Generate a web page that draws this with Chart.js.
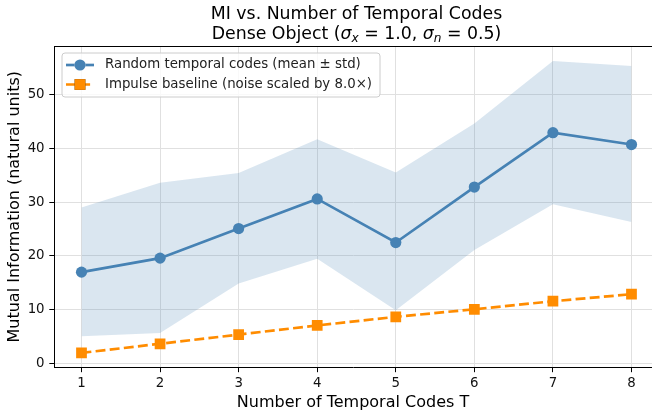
<!DOCTYPE html>
<html>
<head>
<meta charset="utf-8">
<script src="https://cdn.jsdelivr.net/npm/chart.js@4.4.0/dist/chart.umd.min.js"></script>
<style>
  html, body { margin: 0; padding: 0; background: #fff; overflow: hidden; }
  #wrap { width: 652px; height: 415px; }
</style>
</head>
<body>
<div id="wrap"><canvas id="myChart" width="652" height="415"></canvas></div>
<script>
// values
const codes = [1, 2, 3, 4, 5, 6, 7, 8];
const miMean = [17.0, 19.6, 25.1, 30.6, 22.5, 32.8, 42.9, 40.7];
const miUpper = [29.0, 33.6, 35.4, 41.7, 35.5, 44.6, 56.2, 55.3];
const miLower = [5.1, 5.7, 14.9, 19.5, 9.9, 21.1, 29.6, 26.3];
const impulse = [2.0, 3.7, 5.4, 7.1, 8.7, 10.1, 11.6, 12.9];
const yTicks = [0, 10, 20, 30, 40, 50];

const FONT = "'DejaVu Sans', sans-serif";
const steel = '#4682b4';
const orange = '#ff8c00';
const gridGray = '#e0e0e0';

const pts = (arr) => codes.map((c, i) => ({x: c, y: arr[i]}));

// two-line title, second line has sigma with subscripts like mathtext
const mathTitle = {
  id: 'mathTitle',
  afterDraw(chart) {
    const c = chart.ctx;
    const cx = 356.5;
    const size = 17.33;
    const reg = size + 'px ' + FONT;
    const ita = 'italic ' + size + 'px ' + FONT;
    const sub = 'italic ' + (size * 0.7).toFixed(2) + 'px ' + FONT;
    c.save();
    c.fillStyle = '#000';
    c.textBaseline = 'alphabetic';
    c.textAlign = 'left';
    c.font = reg;
    const line1 = 'MI vs. Number of Temporal Codes';
    c.fillText(line1, cx - c.measureText(line1).width / 2, 19);
    const parts = [
      [reg, 'Dense Object (', 0],
      [ita, '\u03c3', 0],
      [sub, 'x', 3.5],
      [reg, ' = 1.0, ', 0],
      [ita, '\u03c3', 0],
      [sub, 'n', 3.5],
      [reg, ' = 0.5)', 0]
    ];
    let total = 0;
    parts.forEach(p => { c.font = p[0]; total += c.measureText(p[1]).width; });
    let x = cx - total / 2;
    parts.forEach(p => {
      c.font = p[0];
      c.fillText(p[1], x, 38.5 + p[2]);
      x += c.measureText(p[1]).width;
    });
    c.restore();
  }
};

// legend box drawn inside the plot (matplotlib style) + top spine
const innerLegend = {
  id: 'innerLegend',
  afterDatasetsDraw(chart) {
    const c = chart.ctx;
    const area = chart.chartArea;
    const items = [chart.data.datasets[0], chart.data.datasets[1]];
    c.save();
    // top spine
    c.fillStyle = '#000';
    c.fillRect(area.left, Math.round(area.top), area.right - area.left, 1);

    c.beginPath();
    c.roundRect(62, 53, 318, 44, 3);
    c.fillStyle = 'rgba(255,255,255,0.8)';
    c.fill();
    c.strokeStyle = '#cccccc';
    c.lineWidth = 1;
    c.stroke();
    items.forEach((ds, i) => {
      const y = 65 + i * 19.5;
      c.beginPath();
      c.setLineDash(ds.borderDash || []);
      c.strokeStyle = ds.borderColor;
      c.lineWidth = ds.borderWidth;
      c.moveTo(66, y);
      c.lineTo(94, y);
      c.stroke();
      c.setLineDash([]);
      Chart.helpers.drawPoint(c, {pointStyle: ds.pointStyle, radius: ds.pointRadius, borderWidth: 0}, 80, y);
      c.fillStyle = ds.pointBackgroundColor;
      c.fill();
      c.fillStyle = '#222';
      c.font = '13.33px ' + FONT;
      c.textBaseline = 'middle';
      c.textAlign = 'left';
      c.fillText(ds.label, 105, y);
    });
    c.restore();
  }
};

new Chart(document.getElementById('myChart'), {
  type: 'line',
  data: {
    datasets: [
      {
        label: 'Random temporal codes (mean \u00b1 std)',
        data: pts(miMean),
        borderColor: steel,
        backgroundColor: steel,
        borderWidth: 2.67,
        pointStyle: 'circle',
        pointRadius: 5.6,
        pointBackgroundColor: steel,
        pointBorderWidth: 0,
        tension: 0,
        fill: false
      },
      {
        label: 'Impulse baseline (noise scaled by 8.0\u00d7)',
        data: pts(impulse),
        borderColor: orange,
        backgroundColor: orange,
        borderWidth: 2.67,
        borderDash: [9.9, 4.3],
        pointStyle: 'rect',
        pointRadius: 7.6,
        pointBackgroundColor: orange,
        pointBorderWidth: 0,
        tension: 0,
        fill: false
      },
      {
        label: 'std upper',
        data: pts(miUpper),
        borderWidth: 0,
        borderColor: 'rgba(0,0,0,0)',
        pointRadius: 0,
        backgroundColor: 'rgba(70,130,180,0.2)',
        tension: 0,
        fill: '+1'
      },
      {
        label: 'std lower',
        data: pts(miLower),
        borderWidth: 0,
        borderColor: 'rgba(0,0,0,0)',
        pointRadius: 0,
        tension: 0,
        fill: false
      }
    ]
  },
  options: {
    responsive: false,
    animation: false,
    layout: { padding: { top: 46 }, autoPadding: false },
    plugins: {
      legend: { display: false },
      tooltip: { enabled: false },
      title: { display: false }
    },
    scales: {
      x: {
        type: 'linear',
        min: 0.65,
        max: 8.261,
        afterFit(s) {
          s.height = 47.5;
          s.paddingLeft = 0;
          s.paddingRight = 0;
        },
        afterBuildTicks(s) { s.ticks = codes.map(v => ({value: v})); },
        ticks: { color: '#111', font: { family: FONT, size: 13.33 }, padding: 3 },
        grid: { color: gridGray, tickColor: '#000', tickLength: 4.7 },
        border: { color: '#000', width: 1 },
        title: {
          display: true,
          text: 'Number of Temporal Codes T',
          color: '#000',
          font: { family: FONT, size: 16, lineHeight: 1.2 },
          padding: { top: 0, bottom: 3 }
        }
      },
      y: {
        min: -0.71,
        max: 59.0,
        afterFit(s) {
          s.width = 54;
          s.paddingTop = 0;
          s.paddingBottom = 0;
        },
        afterBuildTicks(s) { s.ticks = yTicks.map(v => ({value: v})); },
        ticks: { color: '#111', font: { family: FONT, size: 13.33 }, padding: 4.7 },
        grid: { color: gridGray, tickColor: '#000', tickLength: 4.7 },
        border: { color: '#000', width: 1 },
        title: {
          display: true,
          text: 'Mutual Information (natural units)',
          color: '#000',
          font: { family: FONT, size: 16, lineHeight: 1.2 },
          padding: { top: 5.5, bottom: 0 }
        }
      }
    }
  },
  plugins: [innerLegend, mathTitle]
});
</script>
</body>
</html>
